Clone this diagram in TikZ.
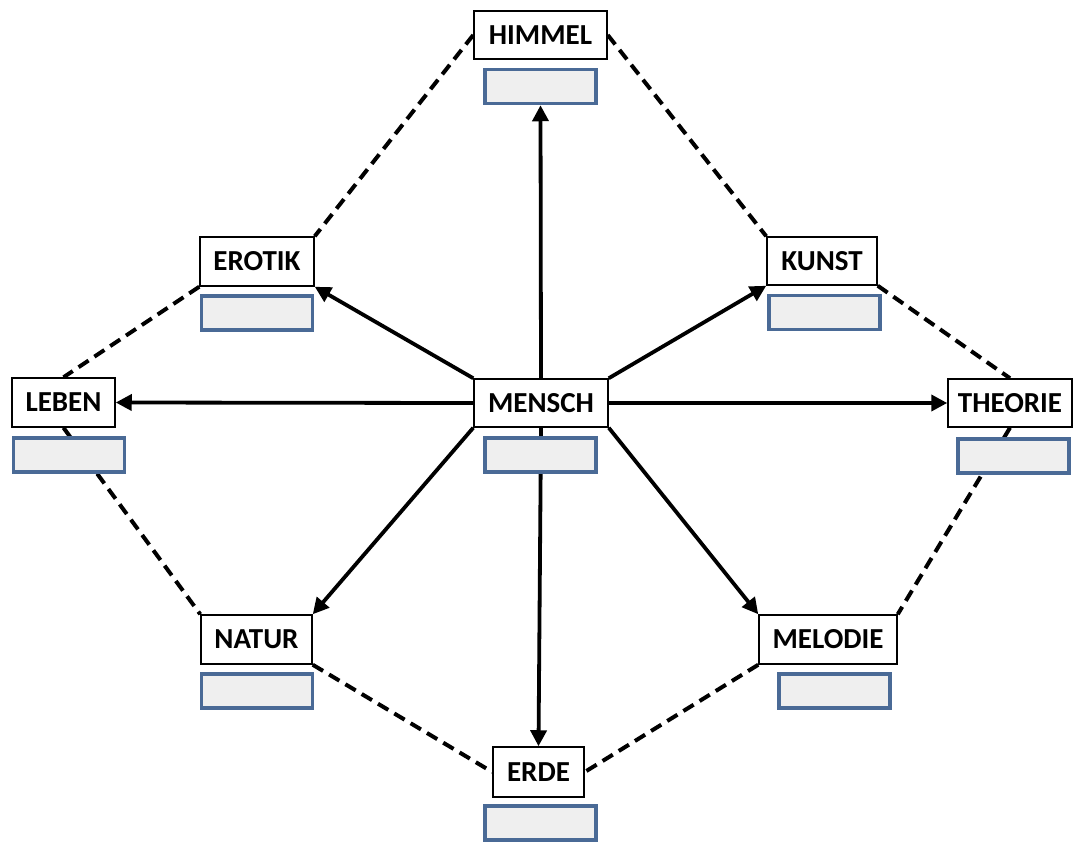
\documentclass[tikz,border=0pt]{standalone}
\usepackage{fontspec}
\setmainfont{Carlito}
\usetikzlibrary{arrows.meta,backgrounds}
\definecolor{boxblue}{HTML}{4A6A96}
\definecolor{boxfill}{HTML}{EFEFEF}
\tikzset{
  lbl/.style={draw=black, line width=1.5pt, fill=white, inner sep=0pt,
    font=\fontsize{29}{33}\selectfont\bfseries},
  blank/.style={draw=boxblue, line width=3.5pt, fill=boxfill, inner sep=0pt,
    minimum width=111pt, minimum height=34pt},
  dashline/.style={line width=4pt, dash pattern=on 12pt off 7pt},
  arrowline/.style={line width=3.8pt, -{Triangle[length=16pt,width=16pt]}}
}
\begin{document}
\begin{tikzpicture}[x=1pt,y=-1pt]
\useasboundingbox (0,0) rectangle (1073,842);
% label boxes
\node[lbl, minimum width=133pt, minimum height=48pt] (himmel) at (540.5,35) {HIMMEL};
\node[lbl, minimum width=114pt, minimum height=49pt] (erotik) at (257,261.5) {EROTIK};
\node[lbl, minimum width=110pt, minimum height=48pt] (kunst) at (822,261) {KUNST};
\node[lbl, minimum width=103pt, minimum height=49pt] (leben) at (63.5,402.5) {LEBEN};
\node[lbl, minimum width=134pt, minimum height=48pt] (mensch) at (541,403) {MENSCH};
\node[lbl, minimum width=124pt, minimum height=48pt] (theorie) at (1010,403) {THEORIE};
\node[lbl, minimum width=111pt, minimum height=49pt] (natur) at (256.5,639.5) {NATUR};
\node[lbl, minimum width=138pt, minimum height=49pt] (melodie) at (828,639.5) {MELODIE};
\node[lbl, minimum width=91pt, minimum height=50pt] (erde) at (538.5,772) {ERDE};
% blank boxes
\node[blank] (bhimmel) at (540.5,86.5) {};
\node[blank] (berotik) at (257,313) {};
\node[blank] (bkunst) at (824.5,312.5) {};
\node[blank] (bleben) at (69,455) {};
\node[blank] (bmensch) at (540.5,455) {};
\node[blank] (btheorie) at (1013.5,456) {};
\node[blank] (bnatur) at (257,691) {};
\node[blank] (bmelodie) at (834.5,691) {};
\node[blank] (berde) at (540.5,823) {};
\begin{scope}[on background layer]
% dashed ring
\draw[dashline] (himmel.west) -- (erotik.north east);
\draw[dashline] (himmel.east) -- (kunst.north west);
\draw[dashline] (erotik.south west) -- (leben.north);
\draw[dashline] (leben.south) -- (natur.north west);
\draw[dashline] (kunst.south east) -- (theorie.north);
\draw[dashline] (theorie.south) -- (melodie.north east);
\draw[dashline] (natur.south east) -- (erde.west);
\draw[dashline] (melodie.south west) -- (erde.east);
% arrows
\draw[arrowline] (mensch.north) -- (bhimmel.south);
\draw[arrowline] (mensch.north west) -- (erotik.south east);
\draw[arrowline] (mensch.north east) -- (kunst.south west);
\draw[arrowline] (mensch.west) -- (leben.east);
\draw[arrowline] (mensch.east) -- (theorie.west);
\draw[arrowline] (mensch.south west) -- (natur.north east);
\draw[arrowline] (mensch.south east) -- (melodie.north west);
\draw[arrowline] (mensch.south) -- (erde.north);
\end{scope}
\end{tikzpicture}
\end{document}
